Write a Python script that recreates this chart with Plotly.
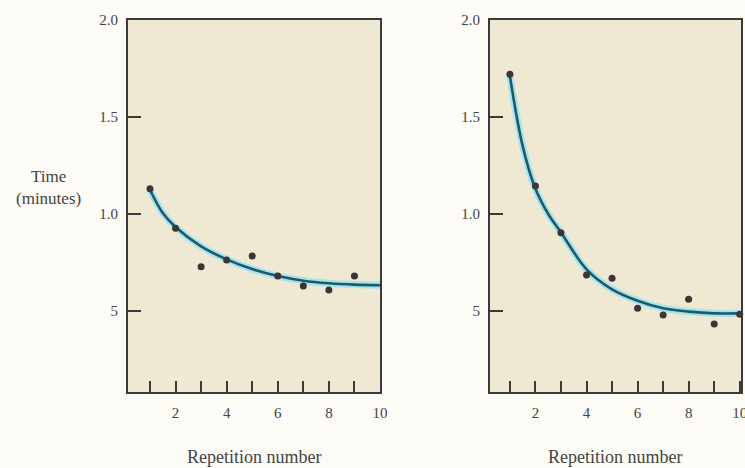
import plotly.graph_objects as go

# Observed data points
reps_left = [1, 2, 3, 4, 5, 6, 7, 8, 9]
time_left = [1.13, 0.926, 0.728, 0.763, 0.784, 0.680, 0.629, 0.608, 0.680]

reps_right = [1, 2, 3, 4, 5, 6, 7, 8, 9, 10]
time_right = [1.72, 1.144, 0.904, 0.686, 0.669, 0.514, 0.479, 0.560, 0.433, 0.483]

# Fitted curves
curve_x_left = [1, 1.5, 2, 3, 4, 5, 6, 7, 8, 9, 10]
curve_y_left = [1.125, 1.005, 0.933, 0.833, 0.766, 0.716, 0.680, 0.656, 0.643, 0.636, 0.633]

curve_x_right = [1, 1.5, 2, 2.5, 3, 4, 5, 6, 7, 8, 9, 10]
curve_y_right = [1.71, 1.35, 1.13, 1.0, 0.905, 0.715, 0.612, 0.553, 0.514, 0.497, 0.488, 0.488]

x_tickvals = [1, 2, 3, 4, 5, 6, 7, 8, 9, 10]
x_ticktext = ["", "2", "", "4", "", "6", "", "8", "", "10"]
y_tickvals = [0.5, 1.0, 1.5, 2.0]
y_ticktext = ["5", "1.0", "1.5", "2.0"]

FONT = "Liberation Serif, Times New Roman, serif"
TEXT = "#444444"
LINE = "#3a3a3a"
GLOW = "#a6e3f0"
CURVE = "#1f5966"
DOT = "#3d3436"

fig = go.Figure()

for xa, ya, cx, cy, px, py in [
    ("x", "y", curve_x_left, curve_y_left, reps_left, time_left),
    ("x2", "y2", curve_x_right, curve_y_right, reps_right, time_right),
]:
    fig.add_trace(go.Scatter(x=cx, y=cy, mode="lines", xaxis=xa, yaxis=ya,
                             line=dict(color=GLOW, width=7, shape="spline", smoothing=1),
                             hoverinfo="skip", showlegend=False))
    fig.add_trace(go.Scatter(x=cx, y=cy, mode="lines", xaxis=xa, yaxis=ya,
                             line=dict(color=CURVE, width=2.6, shape="spline", smoothing=1),
                             showlegend=False))
    fig.add_trace(go.Scatter(x=px, y=py, mode="markers", xaxis=xa, yaxis=ya,
                             marker=dict(color=DOT, size=7),
                             showlegend=False, cliponaxis=False))

W, H = 745, 468
left_dom = [128 / W, 380 / W]
right_dom = [490 / W, 741 / W]
y_dom = [1 - 392 / H, 1 - 20 / H]

xaxis_common = dict(tickvals=x_tickvals, ticktext=x_ticktext, ticks="inside", ticklen=11,
                    tickwidth=2, tickcolor=LINE, showline=True, linecolor=LINE, linewidth=2,
                    mirror=True, showgrid=False, zeroline=False, ticklabelstandoff=6,
                    ticklabeloverflow="allow",
                    tickfont=dict(family=FONT, size=15, color=TEXT), automargin=False)
yaxis_common = dict(tickvals=y_tickvals, ticktext=y_ticktext, ticks="inside", ticklen=13,
                    tickwidth=2, tickcolor=LINE, showline=True, linecolor=LINE, linewidth=2,
                    mirror=True, showgrid=False, zeroline=False, range=[0.0825, 2.0],
                    ticklabelstandoff=5,
                    tickfont=dict(family=FONT, size=15, color=TEXT), automargin=False)

fig.update_layout(
    width=W, height=H,
    margin=dict(l=0, r=0, t=0, b=0),
    paper_bgcolor="#fcfbf5",
    plot_bgcolor="#efe9d4",
    xaxis=dict(domain=left_dom, range=[0.14, 10], anchor="y", **xaxis_common),
    yaxis=dict(domain=y_dom, anchor="x", **yaxis_common),
    xaxis2=dict(domain=right_dom, range=[0.22, 10.05], anchor="y2", **xaxis_common),
    yaxis2=dict(domain=y_dom, anchor="x2", **yaxis_common),
    annotations=[
        dict(text="Time<br>(minutes)", x=48 / W, y=1 - 187 / H,
             xref="paper", yref="paper", showarrow=False, xanchor="center", yanchor="middle",
             font=dict(family=FONT, size=17, color=TEXT), align="center"),
        dict(text="Repetition number", x=254 / W, y=1 - 457 / H,
             xref="paper", yref="paper", showarrow=False, xanchor="center", yanchor="middle",
             font=dict(family=FONT, size=18, color=TEXT)),
        dict(text="Repetition number", x=615 / W, y=1 - 457 / H,
             xref="paper", yref="paper", showarrow=False, xanchor="center", yanchor="middle",
             font=dict(family=FONT, size=18, color=TEXT)),
    ],
)

fig.write_html("out.html", config={"displayModeBar": False},
               post_script="document.body.style.margin='0';document.body.style.overflow='hidden';")
